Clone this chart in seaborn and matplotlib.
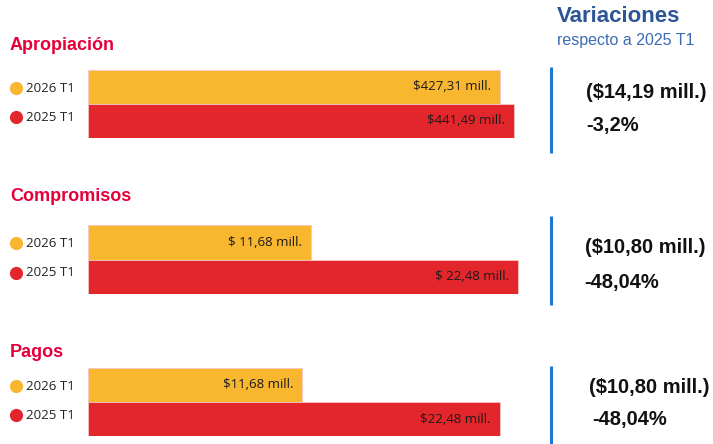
import numpy as np
import pandas as pd
import matplotlib
matplotlib.use("Agg")
import matplotlib.pyplot as plt
import seaborn as sns

# datos del gráfico
categorias = ["Apropiación", "Compromisos", "Pagos"]
periodos = ["2026 T1", "2025 T1"]
valores_2026 = [427.31, 11.68, 11.68]
valores_2025 = [441.49, 22.48, 22.48]
etiquetas_2026 = ["$427,31 mill.", "$ 11,68 mill.", "$11,68 mill."]
etiquetas_2025 = ["$441,49 mill.", "$ 22,48 mill.", "$22,48 mill."]
variacion_abs = ["($14,19 mill.)", "($10,80 mill.)", "($10,80 mill.)"]
variacion_pct = ["-3,2%", "-48,04%", "-48,04%"]

AMARILLO = "#F9B62F"
ROJO = "#E3262C"
ROJO_TITULO = "#E4003B"
AZUL = "#2B5596"

W, H = 713, 444

sns.set_theme(style="white")
plt.rcParams["font.family"] = ["Liberation Sans", "DejaVu Sans"]

fig = plt.figure(figsize=(W / 100, H / 100), dpi=100)
fig.patch.set_facecolor("white")

# capa de fondo en coordenadas de pixel
bg = fig.add_axes([0, 0, 1, 1])
bg.set_xlim(0, W)
bg.set_ylim(H, 0)
bg.axis("off")

# posiciones (pixeles)
barra_top = [70, 225, 368]
barra_bot = [138, 294, 436]
titulo_y = [46, 196, 352]
fin_max = [514, 518, 500]
linea_y = [(67, 153), (216, 305), (366, 444)]
var_x = [586, 585, 589]
pct_x = [586, 584, 592]
var_y = [92, 247, 387]
pct_y = [125, 282, 419]
x0, x1 = 88, 530

bg.text(557, 16, "Variaciones", color=AZUL, fontsize=16, fontweight="bold",
        va="center", ha="left")
bg.text(557, 41, "respecto a 2025 T1", color="#3A6BB3", fontsize=11.5,
        va="center", ha="left")

for i, cat in enumerate(categorias):
    top, bot = barra_top[i], barra_bot[i]
    ax = fig.add_axes([x0 / W, 1 - bot / H, (x1 - x0) / W, (bot - top) / H])
    df = pd.DataFrame({"periodo": periodos,
                       "valor": [valores_2026[i], valores_2025[i]]})
    sns.barplot(data=df, y="periodo", x="valor", hue="periodo",
                palette=[AMARILLO, ROJO], saturation=1, width=1.0, orient="h",
                edgecolor="#F5C6C6", linewidth=0.6, legend=False, ax=ax)
    escala = (fin_max[i] - x0) / (x1 - x0)
    ax.set_xlim(0, max(valores_2026[i], valores_2025[i]) / escala)
    ax.set_ylim(1.5, -0.5)
    ax.axis("off")
    for j, (v, lab) in enumerate([(valores_2026[i], etiquetas_2026[i]),
                                  (valores_2025[i], etiquetas_2025[i])]):
        ax.annotate(lab, xy=(v, j), xytext=(-9, 0), textcoords="offset pixels",
                    ha="right", va="center", fontsize=9.5, color="#1a1a1a",
                    family=["Open Sans", "DejaVu Sans"])

    # titulo del bloque
    bg.text(10, titulo_y[i], cat, color=ROJO_TITULO, fontsize=13,
            fontweight="bold", va="center", ha="left")

    # leyenda con circulos
    mid = (top + bot) / 2
    for yy, per, col in [((top + mid) / 2 + 1, periodos[0], AMARILLO),
                         ((mid + bot) / 2 - 4, periodos[1], ROJO)]:
        bg.plot([16], [yy], marker="o", markersize=9.5, color=col, mec="none")
        bg.text(26, yy, per, fontsize=9.5, va="center", ha="left",
                color="#222222", family=["Open Sans", "DejaVu Sans"])

    # linea separadora azul y variaciones
    bg.plot([551, 551], linea_y[i], color="#1F78D1", lw=2.2,
            solid_capstyle="butt")
    bg.text(var_x[i], var_y[i], variacion_abs[i], fontsize=14.5,
            fontweight="bold", va="center", ha="left", color="#111111")
    bg.text(pct_x[i], pct_y[i], variacion_pct[i], fontsize=14.5,
            fontweight="bold", va="center", ha="left", color="#111111")

fig.savefig("out.png", dpi=100, facecolor="white")
